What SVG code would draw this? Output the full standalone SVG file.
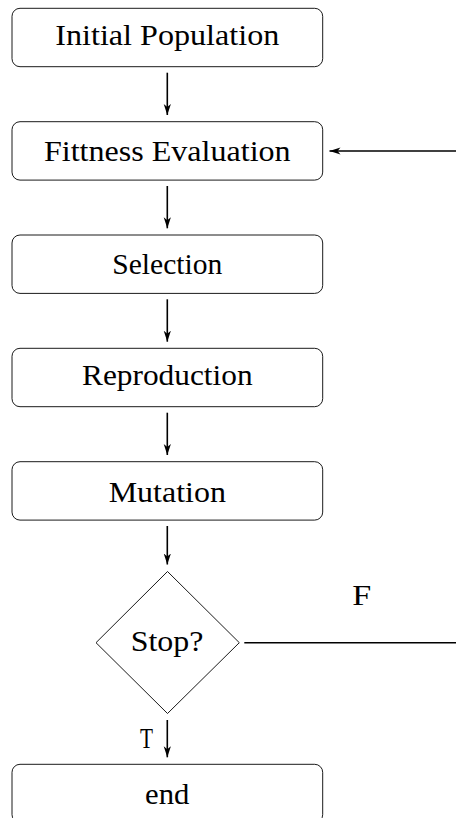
<svg xmlns="http://www.w3.org/2000/svg" width="456" height="818" viewBox="0 0 456 818">
  <style>
    .box { fill: #ffffff; stroke: #000000; stroke-width: 0.9; }
    .lbl { font-family: "Liberation Serif", "Times New Roman", serif; font-size: 29px; fill: #000000; text-anchor: middle; }
    .edge { fill: none; stroke: #000000; stroke-width: 1.6; }
  </style>
  <defs>
    <!-- stealth-style arrowhead, tip at the end of the line -->
    <marker id="stealth" markerUnits="userSpaceOnUse" markerWidth="12" markerHeight="10" refX="11" refY="4" orient="auto">
      <path d="M11,4 L0,0.4 L3,4 L0,7.6 Z" fill="#000000"/>
    </marker>
  </defs>

  <rect width="456" height="818" fill="#ffffff"/>

  <g id="connectors">
    <line class="edge" x1="167.3" y1="72.7" x2="167.3" y2="115" marker-end="url(#stealth)"/>
    <line class="edge" x1="167.3" y1="186" x2="167.3" y2="228.3" marker-end="url(#stealth)"/>
    <line class="edge" x1="167.3" y1="299.3" x2="167.3" y2="341.7" marker-end="url(#stealth)"/>
    <line class="edge" x1="167.3" y1="412.7" x2="167.3" y2="455" marker-end="url(#stealth)"/>
    <line class="edge" x1="167.3" y1="526" x2="167.3" y2="564.5" marker-end="url(#stealth)"/>
    <line class="edge" x1="167.3" y1="720" x2="167.3" y2="757.3" marker-end="url(#stealth)"/>
    <line class="edge" x1="244.3" y1="642.7" x2="456" y2="642.7"/>
    <line class="edge" x1="456" y1="151" x2="329.5" y2="151" marker-end="url(#stealth)"/>
    <text class="lbl" x="361.7" y="605" textLength="19" lengthAdjust="spacingAndGlyphs">F</text>
    <text class="lbl" x="146.4" y="748" textLength="13" lengthAdjust="spacingAndGlyphs">T</text>
  </g>

  <g id="initial">
    <rect class="box" x="12" y="8.3" width="310.7" height="58.4" rx="8"/>
    <text class="lbl" x="167.3" y="45" textLength="224" lengthAdjust="spacingAndGlyphs">Initial Population</text>
  </g>
  <g id="fitness">
    <rect class="box" x="12" y="121.7" width="310.7" height="58.4" rx="8"/>
    <text class="lbl" x="167.3" y="160.7" textLength="246.7" lengthAdjust="spacingAndGlyphs">Fittness Evaluation</text>
  </g>
  <g id="selection">
    <rect class="box" x="12" y="235" width="310.7" height="58.4" rx="8"/>
    <text class="lbl" x="167.3" y="274.3" textLength="110" lengthAdjust="spacingAndGlyphs">Selection</text>
  </g>
  <g id="reproduction">
    <rect class="box" x="12" y="348.3" width="310.7" height="58.4" rx="8"/>
    <text class="lbl" x="167.3" y="384.5" textLength="170.6" lengthAdjust="spacingAndGlyphs">Reproduction</text>
  </g>
  <g id="mutation">
    <rect class="box" x="12" y="461.7" width="310.7" height="58.4" rx="8"/>
    <text class="lbl" x="167.3" y="501.5" textLength="117.3" lengthAdjust="spacingAndGlyphs">Mutation</text>
  </g>
  <g id="stop">
    <polygon class="box" points="167.5,571.5 239.3,642.7 167.5,713.5 96,642.7"/>
    <text class="lbl" x="167" y="651" textLength="72.7" lengthAdjust="spacingAndGlyphs">Stop?</text>
  </g>
  <g id="end">
    <rect class="box" x="12" y="764.3" width="310.7" height="58.4" rx="8"/>
    <text class="lbl" x="167.2" y="803.5" textLength="44.3" lengthAdjust="spacingAndGlyphs">end</text>
  </g>
</svg>
